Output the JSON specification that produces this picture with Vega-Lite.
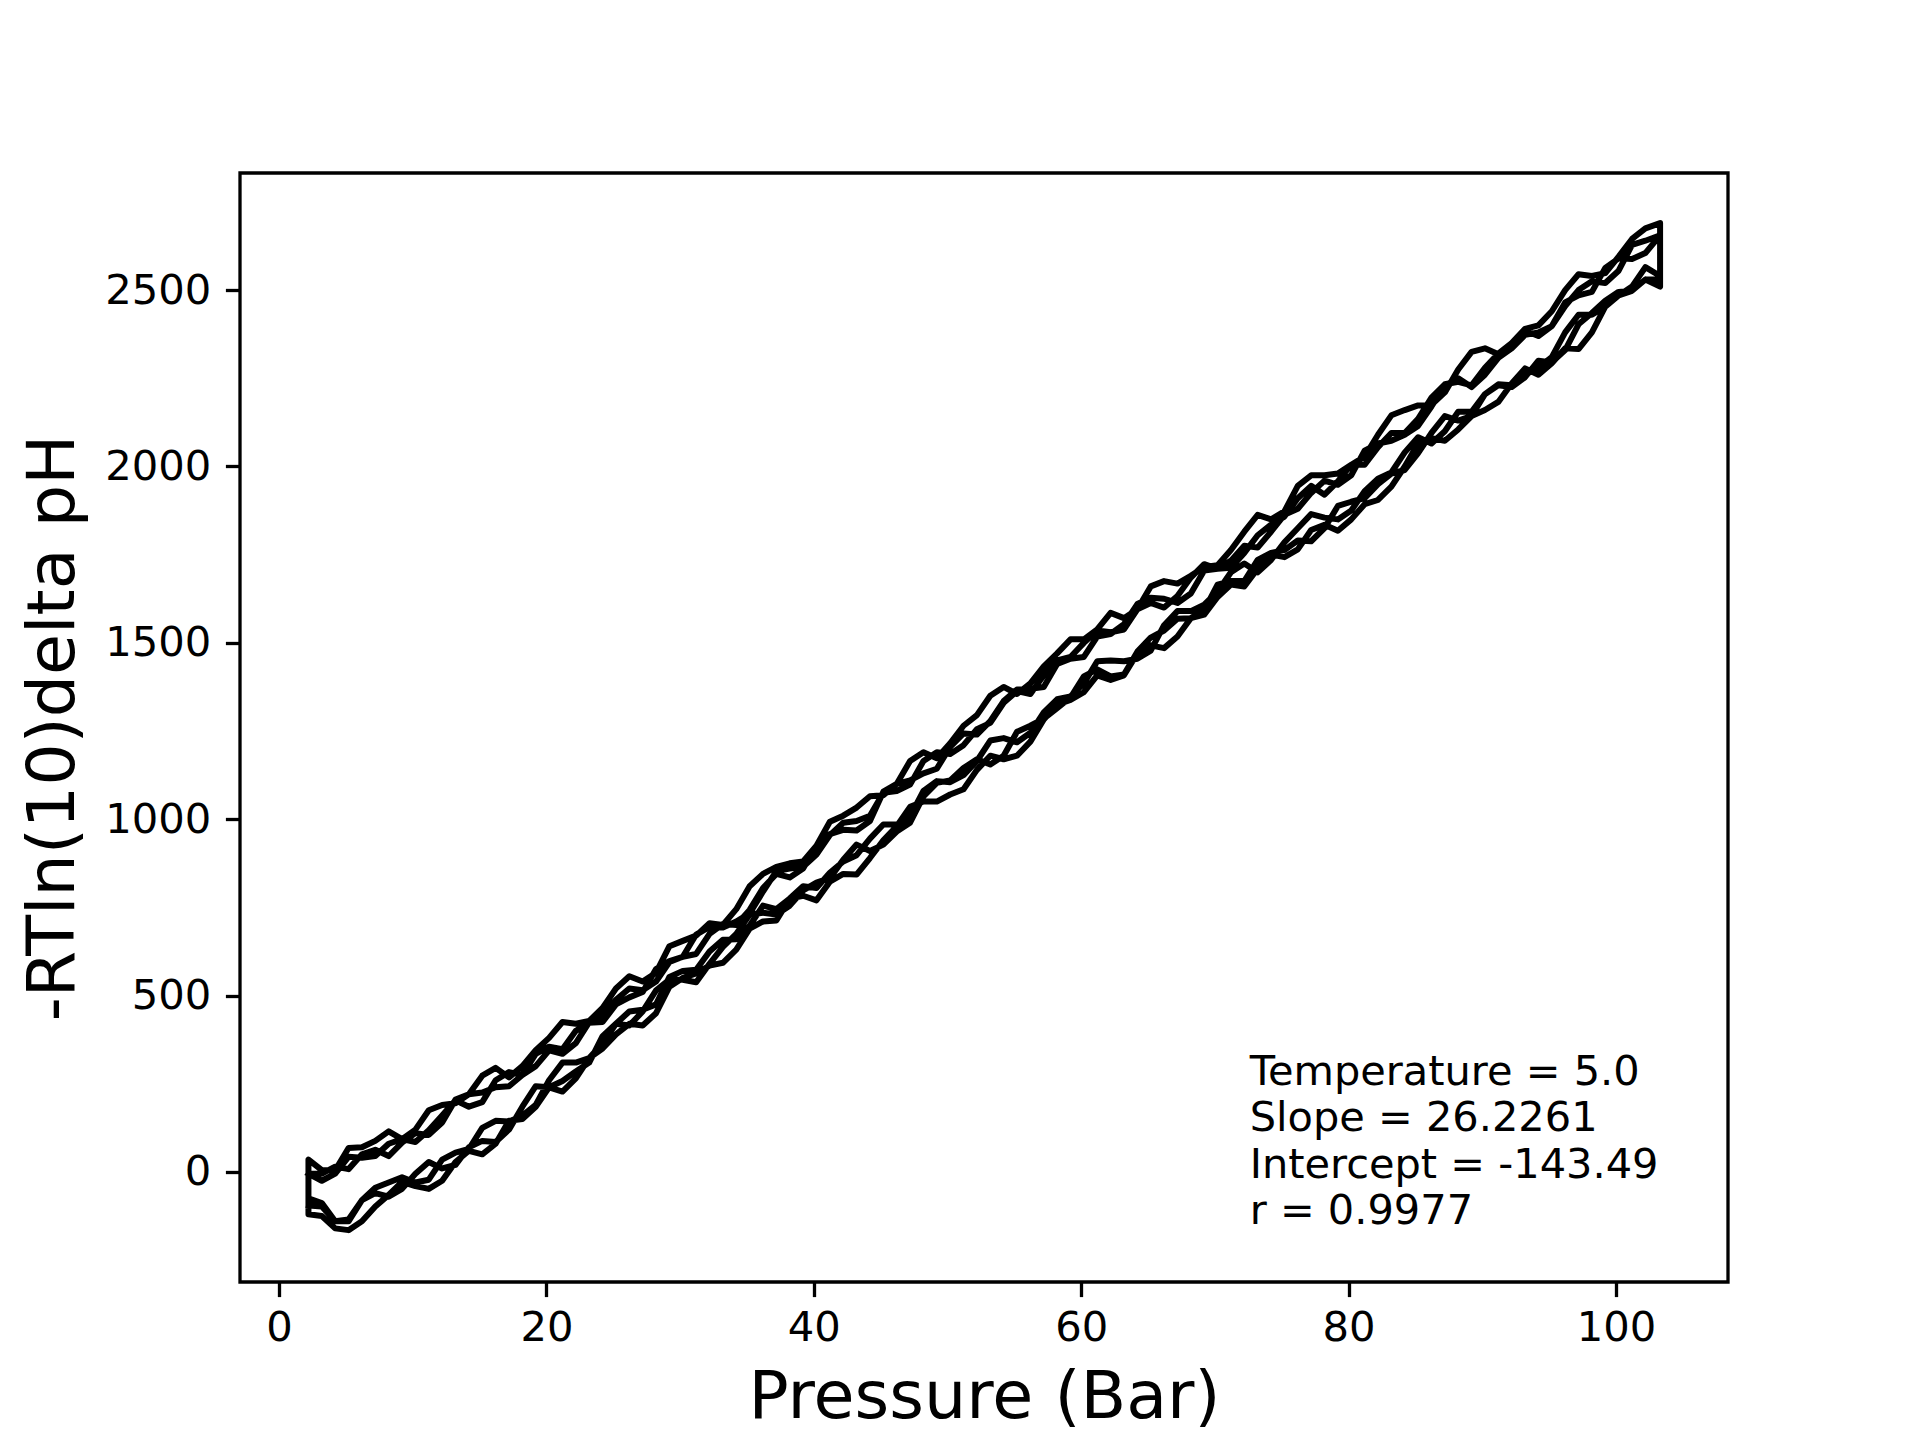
{
  "$schema": "https://vega.github.io/schema/vega-lite/v6.json",
  "description": "Pressure cycles: -RTln(10)delta pH against pressure",
  "autosize": {"type": "none"},
  "padding": {"left": 240, "top": 173, "right": 192, "bottom": 158},
  "width": 1488,
  "height": 1109,
  "background": "white",
  "config": {
    "view": {"stroke": "black", "strokeWidth": 3.3},
    "font": "DejaVu Sans"
  },
  "encoding": {
    "x": {
      "field": "p",
      "type": "quantitative",
      "scale": {"domain": [-2.92, 108.38], "nice": false, "zero": false},
      "axis": {
        "title": "Pressure (Bar)",
        "values": [0, 20, 40, 60, 80, 100],
        "format": "d",
        "grid": false,
        "domain": false,
        "tickSize": 14.6,
        "tickWidth": 3.3,
        "tickColor": "black",
        "labelFont": "DejaVu Sans",
        "labelFontSize": 41.7,
        "labelColor": "black",
        "labelPadding": 11,
        "labelFlush": false,
        "labelOverlap": false,
        "titleFont": "DejaVu Sans",
        "titleFontSize": 66.7,
        "titleFontWeight": "normal",
        "titleColor": "black",
        "titleBaseline": "alphabetic",
        "titleAlign": "center",
        "titleX": 744,
        "titleY": 135
      }
    },
    "y": {
      "field": "v",
      "type": "quantitative",
      "scale": {"domain": [-312, 2832], "nice": false, "zero": false},
      "axis": {
        "title": "-RTln(10)delta pH",
        "values": [0, 500, 1000, 1500, 2000, 2500],
        "format": "d",
        "grid": false,
        "domain": false,
        "tickSize": 14.6,
        "tickWidth": 3.3,
        "tickColor": "black",
        "labelFont": "DejaVu Sans",
        "labelFontSize": 41.7,
        "labelColor": "black",
        "labelPadding": 14.6,
        "labelOverlap": false,
        "titleFont": "DejaVu Sans",
        "titleFontSize": 66.7,
        "titleFontWeight": "normal",
        "titleColor": "black",
        "titleAngle": 270,
        "titleBaseline": "alphabetic",
        "titleAlign": "center",
        "titleX": -167,
        "titleY": 554.5
      }
    }
  },
  "layer": [
    {
      "data": {
        "values": [
          {"p":2.2,"v":-95},{"p":3.2,"v":-98},{"p":4.2,"v":-140},{"p":5.2,"v":-135},{"p":6.2,"v":-80},{"p":7.2,"v":-60},{"p":8.2,"v":-70},{"p":9.2,"v":-48},{"p":10.2,"v":-5},{"p":11.2,"v":28},{"p":12.2,"v":10},{"p":13.2,"v":20},{"p":14.2,"v":70},{"p":15.2,"v":88},{"p":16.2,"v":85},{"p":17.2,"v":120},{"p":18.2,"v":185},{"p":19.2,"v":243},{"p":20.2,"v":240},{"p":21.2,"v":258},{"p":22.2,"v":285},{"p":23.2,"v":310},{"p":24.2,"v":385},{"p":25.2,"v":420},{"p":26.2,"v":415},{"p":27.2,"v":455},{"p":28.2,"v":515},{"p":29.2,"v":545},{"p":30.2,"v":545},{"p":31.2,"v":538},{"p":32.2,"v":590},{"p":33.2,"v":638},{"p":34.2,"v":675},{"p":35.2,"v":730},{"p":36.2,"v":735},{"p":37.2,"v":730},{"p":38.2,"v":755},{"p":39.2,"v":798},{"p":40.2,"v":820},{"p":41.2,"v":833},{"p":42.2,"v":885},{"p":43.2,"v":928},{"p":44.2,"v":910},{"p":45.2,"v":928},{"p":46.2,"v":965},{"p":47.2,"v":990},{"p":48.2,"v":1065},{"p":49.2,"v":1103},{"p":50.2,"v":1110},{"p":51.2,"v":1145},{"p":52.2,"v":1170},{"p":53.2,"v":1155},{"p":54.2,"v":1180},{"p":55.2,"v":1248},{"p":56.2,"v":1265},{"p":57.2,"v":1285},{"p":58.2,"v":1315},{"p":59.2,"v":1345},{"p":60.2,"v":1405},{"p":61.2,"v":1425},{"p":62.2,"v":1405},{"p":63.2,"v":1410},{"p":64.2,"v":1475},{"p":65.2,"v":1515},{"p":66.2,"v":1535},{"p":67.2,"v":1568},{"p":68.2,"v":1570},{"p":69.2,"v":1593},{"p":70.2,"v":1665},{"p":71.2,"v":1675},{"p":72.2,"v":1675},{"p":73.2,"v":1735},{"p":74.2,"v":1755},{"p":75.2,"v":1763},{"p":76.2,"v":1790},{"p":77.2,"v":1788},{"p":78.2,"v":1825},{"p":79.2,"v":1888},{"p":80.2,"v":1900},{"p":81.2,"v":1910},{"p":82.2,"v":1950},{"p":83.2,"v":1980},{"p":84.2,"v":1990},{"p":85.2,"v":2038},{"p":86.2,"v":2095},{"p":87.2,"v":2143},{"p":88.2,"v":2130},{"p":89.2,"v":2143},{"p":90.2,"v":2205},{"p":91.2,"v":2230},{"p":92.2,"v":2225},{"p":93.2,"v":2253},{"p":94.2,"v":2300},{"p":95.2,"v":2295},{"p":96.2,"v":2330},{"p":97.2,"v":2403},{"p":98.2,"v":2435},{"p":99.2,"v":2470},{"p":100.2,"v":2495},{"p":101.2,"v":2498},{"p":102.2,"v":2530},{"p":103.3,"v":2530},
          {"p":103.3,"v":2690},{"p":102.2,"v":2675},{"p":101.2,"v":2645},{"p":100.2,"v":2595},{"p":99.2,"v":2548},{"p":98.2,"v":2540},{"p":97.2,"v":2545},{"p":96.2,"v":2500},{"p":95.2,"v":2440},{"p":94.2,"v":2400},{"p":93.2,"v":2390},{"p":92.2,"v":2350},{"p":91.2,"v":2318},{"p":90.2,"v":2335},{"p":89.2,"v":2325},{"p":88.2,"v":2275},{"p":87.2,"v":2210},{"p":86.2,"v":2175},{"p":85.2,"v":2173},{"p":84.2,"v":2160},{"p":83.2,"v":2145},{"p":82.2,"v":2090},{"p":81.2,"v":2028},{"p":80.2,"v":2005},{"p":79.2,"v":1980},{"p":78.2,"v":1975},{"p":77.2,"v":1975},{"p":76.2,"v":1945},{"p":75.2,"v":1873},{"p":74.2,"v":1850},{"p":73.2,"v":1863},{"p":72.2,"v":1815},{"p":71.2,"v":1763},{"p":70.2,"v":1720},{"p":69.2,"v":1715},{"p":68.2,"v":1690},{"p":67.2,"v":1668},{"p":66.2,"v":1675},{"p":65.2,"v":1660},{"p":64.2,"v":1595},{"p":63.2,"v":1570},{"p":62.2,"v":1585},{"p":61.2,"v":1538},{"p":60.2,"v":1510},{"p":59.2,"v":1510},{"p":58.2,"v":1470},{"p":57.2,"v":1433},{"p":56.2,"v":1385},{"p":55.2,"v":1355},{"p":54.2,"v":1375},{"p":53.2,"v":1350},{"p":52.2,"v":1295},{"p":51.2,"v":1265},{"p":50.2,"v":1215},{"p":49.2,"v":1173},{"p":48.2,"v":1190},{"p":47.2,"v":1165},{"p":46.2,"v":1100},{"p":45.2,"v":1068},{"p":44.2,"v":1065},{"p":43.2,"v":1033},{"p":42.2,"v":1010},{"p":41.2,"v":993},{"p":40.2,"v":925},{"p":39.2,"v":880},{"p":38.2,"v":875},{"p":37.2,"v":865},{"p":36.2,"v":845},{"p":35.2,"v":810},{"p":34.2,"v":745},{"p":33.2,"v":700},{"p":32.2,"v":705},{"p":31.2,"v":670},{"p":30.2,"v":655},{"p":29.2,"v":640},{"p":28.2,"v":565},{"p":27.2,"v":540},{"p":26.2,"v":555},{"p":25.2,"v":520},{"p":24.2,"v":465},{"p":23.2,"v":428},{"p":22.2,"v":420},{"p":21.2,"v":425},{"p":20.2,"v":380},{"p":19.2,"v":345},{"p":18.2,"v":300},{"p":17.2,"v":268},{"p":16.2,"v":295},{"p":15.2,"v":273},{"p":14.2,"v":220},{"p":13.2,"v":195},{"p":12.2,"v":190},{"p":11.2,"v":175},{"p":10.2,"v":120},{"p":9.2,"v":93},{"p":8.2,"v":115},{"p":7.2,"v":88},{"p":6.2,"v":70},{"p":5.2,"v":68},{"p":4.2,"v":5},{"p":3.2,"v":5},{"p":2.2,"v":35},
          {"p":2.2,"v":-120},{"p":3.2,"v":-125},{"p":4.2,"v":-160},{"p":5.2,"v":-165},{"p":6.2,"v":-140},{"p":7.2,"v":-98},{"p":8.2,"v":-65},{"p":9.2,"v":-28},{"p":10.2,"v":-40},{"p":11.2,"v":-48},{"p":12.2,"v":-25},{"p":13.2,"v":28},{"p":14.2,"v":60},{"p":15.2,"v":50},{"p":16.2,"v":80},{"p":17.2,"v":145},{"p":18.2,"v":150},{"p":19.2,"v":185},{"p":20.2,"v":240},{"p":21.2,"v":228},{"p":22.2,"v":265},{"p":23.2,"v":323},{"p":24.2,"v":350},{"p":25.2,"v":390},{"p":26.2,"v":420},{"p":27.2,"v":415},{"p":28.2,"v":450},{"p":29.2,"v":525},{"p":30.2,"v":550},{"p":31.2,"v":563},{"p":32.2,"v":585},{"p":33.2,"v":593},{"p":34.2,"v":630},{"p":35.2,"v":690},{"p":36.2,"v":710},{"p":37.2,"v":713},{"p":38.2,"v":775},{"p":39.2,"v":783},{"p":40.2,"v":770},{"p":41.2,"v":823},{"p":42.2,"v":845},{"p":43.2,"v":843},{"p":44.2,"v":890},{"p":45.2,"v":940},{"p":46.2,"v":980},{"p":47.2,"v":1035},{"p":48.2,"v":1050},{"p":49.2,"v":1050},{"p":50.2,"v":1070},{"p":51.2,"v":1085},{"p":52.2,"v":1140},{"p":53.2,"v":1180},{"p":54.2,"v":1170},{"p":55.2,"v":1180},{"p":56.2,"v":1220},{"p":57.2,"v":1283},{"p":58.2,"v":1325},{"p":59.2,"v":1338},{"p":60.2,"v":1360},{"p":61.2,"v":1408},{"p":62.2,"v":1395},{"p":63.2,"v":1408},{"p":64.2,"v":1470},{"p":65.2,"v":1493},{"p":66.2,"v":1485},{"p":67.2,"v":1518},{"p":68.2,"v":1570},{"p":69.2,"v":1580},{"p":70.2,"v":1630},{"p":71.2,"v":1665},{"p":72.2,"v":1660},{"p":73.2,"v":1710},{"p":74.2,"v":1750},{"p":75.2,"v":1743},{"p":76.2,"v":1765},{"p":77.2,"v":1820},{"p":78.2,"v":1835},{"p":79.2,"v":1818},{"p":80.2,"v":1850},{"p":81.2,"v":1893},{"p":82.2,"v":1905},{"p":83.2,"v":1943},{"p":84.2,"v":2000},{"p":85.2,"v":2065},{"p":86.2,"v":2080},{"p":87.2,"v":2073},{"p":88.2,"v":2105},{"p":89.2,"v":2143},{"p":90.2,"v":2160},{"p":91.2,"v":2183},{"p":92.2,"v":2235},{"p":93.2,"v":2278},{"p":94.2,"v":2260},{"p":95.2,"v":2293},{"p":96.2,"v":2335},{"p":97.2,"v":2333},{"p":98.2,"v":2380},{"p":99.2,"v":2453},{"p":100.2,"v":2485},{"p":101.2,"v":2498},{"p":102.2,"v":2530},{"p":103.3,"v":2510},
          {"p":103.3,"v":2655},{"p":102.2,"v":2640},{"p":101.2,"v":2628},{"p":100.2,"v":2555},{"p":99.2,"v":2520},{"p":98.2,"v":2525},{"p":97.2,"v":2500},{"p":96.2,"v":2455},{"p":95.2,"v":2398},{"p":94.2,"v":2370},{"p":93.2,"v":2385},{"p":92.2,"v":2350},{"p":91.2,"v":2320},{"p":90.2,"v":2280},{"p":89.2,"v":2230},{"p":88.2,"v":2240},{"p":87.2,"v":2233},{"p":86.2,"v":2195},{"p":85.2,"v":2135},{"p":84.2,"v":2095},{"p":83.2,"v":2095},{"p":82.2,"v":2055},{"p":81.2,"v":2005},{"p":80.2,"v":2005},{"p":79.2,"v":1958},{"p":78.2,"v":1920},{"p":77.2,"v":1945},{"p":76.2,"v":1910},{"p":75.2,"v":1858},{"p":74.2,"v":1835},{"p":73.2,"v":1805},{"p":72.2,"v":1755},{"p":71.2,"v":1713},{"p":70.2,"v":1710},{"p":69.2,"v":1723},{"p":68.2,"v":1685},{"p":67.2,"v":1633},{"p":66.2,"v":1600},{"p":65.2,"v":1613},{"p":64.2,"v":1595},{"p":63.2,"v":1538},{"p":62.2,"v":1530},{"p":61.2,"v":1535},{"p":60.2,"v":1500},{"p":59.2,"v":1460},{"p":58.2,"v":1450},{"p":57.2,"v":1408},{"p":56.2,"v":1355},{"p":55.2,"v":1363},{"p":54.2,"v":1330},{"p":53.2,"v":1273},{"p":52.2,"v":1255},{"p":51.2,"v":1210},{"p":50.2,"v":1185},{"p":49.2,"v":1190},{"p":48.2,"v":1165},{"p":47.2,"v":1098},{"p":46.2,"v":1080},{"p":45.2,"v":1075},{"p":44.2,"v":1010},{"p":43.2,"v":995},{"p":42.2,"v":990},{"p":41.2,"v":955},{"p":40.2,"v":900},{"p":39.2,"v":865},{"p":38.2,"v":860},{"p":37.2,"v":853},{"p":36.2,"v":795},{"p":35.2,"v":733},{"p":34.2,"v":710},{"p":33.2,"v":693},{"p":32.2,"v":695},{"p":31.2,"v":673},{"p":30.2,"v":610},{"p":29.2,"v":598},{"p":28.2,"v":575},{"p":27.2,"v":510},{"p":26.2,"v":495},{"p":25.2,"v":475},{"p":24.2,"v":425},{"p":23.2,"v":423},{"p":22.2,"v":400},{"p":21.2,"v":348},{"p":20.2,"v":355},{"p":19.2,"v":335},{"p":18.2,"v":275},{"p":17.2,"v":243},{"p":16.2,"v":240},{"p":15.2,"v":225},{"p":14.2,"v":220},{"p":13.2,"v":205},{"p":12.2,"v":140},{"p":11.2,"v":105},{"p":10.2,"v":110},{"p":9.2,"v":83},{"p":8.2,"v":45},{"p":7.2,"v":63},{"p":6.2,"v":50},{"p":5.2,"v":8},{"p":4.2,"v":15},{"p":3.2,"v":-5},{"p":2.2,"v":-5},
          {"p":2.2,"v":-75},{"p":3.2,"v":-88},{"p":4.2,"v":-140},{"p":5.2,"v":-140},{"p":6.2,"v":-80},{"p":7.2,"v":-45},{"p":8.2,"v":-30},{"p":9.2,"v":-15},{"p":10.2,"v":-30},{"p":11.2,"v":-22},{"p":12.2,"v":35},{"p":13.2,"v":55},{"p":14.2,"v":65},{"p":15.2,"v":125},{"p":16.2,"v":145},{"p":17.2,"v":143},{"p":18.2,"v":160},{"p":19.2,"v":190},{"p":20.2,"v":260},{"p":21.2,"v":310},{"p":22.2,"v":310},{"p":23.2,"v":323},{"p":24.2,"v":365},{"p":25.2,"v":420},{"p":26.2,"v":455},{"p":27.2,"v":460},{"p":28.2,"v":475},{"p":29.2,"v":553},{"p":30.2,"v":570},{"p":31.2,"v":573},{"p":32.2,"v":625},{"p":33.2,"v":658},{"p":34.2,"v":660},{"p":35.2,"v":698},{"p":36.2,"v":755},{"p":37.2,"v":745},{"p":38.2,"v":775},{"p":39.2,"v":810},{"p":40.2,"v":805},{"p":41.2,"v":848},{"p":42.2,"v":880},{"p":43.2,"v":898},{"p":44.2,"v":945},{"p":45.2,"v":985},{"p":46.2,"v":985},{"p":47.2,"v":1008},{"p":48.2,"v":1080},{"p":49.2,"v":1108},{"p":50.2,"v":1105},{"p":51.2,"v":1125},{"p":52.2,"v":1165},{"p":53.2,"v":1223},{"p":54.2,"v":1230},{"p":55.2,"v":1218},{"p":56.2,"v":1245},{"p":57.2,"v":1303},{"p":58.2,"v":1340},{"p":59.2,"v":1348},{"p":60.2,"v":1385},{"p":61.2,"v":1448},{"p":62.2,"v":1450},{"p":63.2,"v":1448},{"p":64.2,"v":1455},{"p":65.2,"v":1478},{"p":66.2,"v":1550},{"p":67.2,"v":1590},{"p":68.2,"v":1590},{"p":69.2,"v":1608},{"p":70.2,"v":1645},{"p":71.2,"v":1700},{"p":72.2,"v":1725},{"p":73.2,"v":1700},{"p":74.2,"v":1735},{"p":75.2,"v":1785},{"p":76.2,"v":1825},{"p":77.2,"v":1865},{"p":78.2,"v":1855},{"p":79.2,"v":1850},{"p":80.2,"v":1875},{"p":81.2,"v":1930},{"p":82.2,"v":1965},{"p":83.2,"v":1983},{"p":84.2,"v":2040},{"p":85.2,"v":2083},{"p":86.2,"v":2065},{"p":87.2,"v":2100},{"p":88.2,"v":2155},{"p":89.2,"v":2155},{"p":90.2,"v":2205},{"p":91.2,"v":2233},{"p":92.2,"v":2230},{"p":93.2,"v":2260},{"p":94.2,"v":2280},{"p":95.2,"v":2310},{"p":96.2,"v":2380},{"p":97.2,"v":2430},{"p":98.2,"v":2430},{"p":99.2,"v":2453},{"p":100.2,"v":2485},{"p":101.2,"v":2510},{"p":102.2,"v":2565},{"p":103.3,"v":2540},
          {"p":103.3,"v":2655},{"p":102.2,"v":2605},{"p":101.2,"v":2588},{"p":100.2,"v":2590},{"p":99.2,"v":2563},{"p":98.2,"v":2495},{"p":97.2,"v":2485},{"p":96.2,"v":2465},{"p":95.2,"v":2398},{"p":94.2,"v":2380},{"p":93.2,"v":2373},{"p":92.2,"v":2335},{"p":91.2,"v":2308},{"p":90.2,"v":2260},{"p":89.2,"v":2225},{"p":88.2,"v":2250},{"p":87.2,"v":2230},{"p":86.2,"v":2170},{"p":85.2,"v":2115},{"p":84.2,"v":2090},{"p":83.2,"v":2073},{"p":82.2,"v":2065},{"p":81.2,"v":2045},{"p":80.2,"v":1975},{"p":79.2,"v":1948},{"p":78.2,"v":1960},{"p":77.2,"v":1925},{"p":76.2,"v":1880},{"p":75.2,"v":1863},{"p":74.2,"v":1815},{"p":73.2,"v":1770},{"p":72.2,"v":1775},{"p":71.2,"v":1733},{"p":70.2,"v":1710},{"p":69.2,"v":1705},{"p":68.2,"v":1640},{"p":67.2,"v":1613},{"p":66.2,"v":1625},{"p":65.2,"v":1628},{"p":64.2,"v":1610},{"p":63.2,"v":1553},{"p":62.2,"v":1525},{"p":61.2,"v":1518},{"p":60.2,"v":1460},{"p":59.2,"v":1455},{"p":58.2,"v":1440},{"p":57.2,"v":1375},{"p":56.2,"v":1370},{"p":55.2,"v":1368},{"p":54.2,"v":1335},{"p":53.2,"v":1278},{"p":52.2,"v":1240},{"p":51.2,"v":1243},{"p":50.2,"v":1205},{"p":49.2,"v":1143},{"p":48.2,"v":1130},{"p":47.2,"v":1110},{"p":46.2,"v":1100},{"p":45.2,"v":1078},{"p":44.2,"v":995},{"p":43.2,"v":968},{"p":42.2,"v":970},{"p":41.2,"v":958},{"p":40.2,"v":925},{"p":39.2,"v":860},{"p":38.2,"v":835},{"p":37.2,"v":845},{"p":36.2,"v":805},{"p":35.2,"v":743},{"p":34.2,"v":700},{"p":33.2,"v":703},{"p":32.2,"v":675},{"p":31.2,"v":618},{"p":30.2,"v":610},{"p":29.2,"v":595},{"p":28.2,"v":540},{"p":27.2,"v":515},{"p":26.2,"v":520},{"p":25.2,"v":488},{"p":24.2,"v":445},{"p":23.2,"v":425},{"p":22.2,"v":365},{"p":21.2,"v":335},{"p":20.2,"v":345},{"p":19.2,"v":300},{"p":18.2,"v":275},{"p":17.2,"v":283},{"p":16.2,"v":260},{"p":15.2,"v":198},{"p":14.2,"v":185},{"p":13.2,"v":203},{"p":12.2,"v":160},{"p":11.2,"v":118},{"p":10.2,"v":85},{"p":9.2,"v":93},{"p":8.2,"v":80},{"p":7.2,"v":45},{"p":6.2,"v":40},{"p":5.2,"v":43},{"p":4.2,"v":-5},{"p":3.2,"v":-25},{"p":2.2,"v":-5}
        ]
      },
      "mark": {
        "type": "line",
        "color": "black",
        "strokeWidth": 6,
        "strokeJoin": "round",
        "strokeCap": "square"
      },
      "encoding": {
        "order": {"value": null}
      }
    },
    {
      "data": {
        "values": [
          {"p": 72.6, "v": 246.6, "t": "Temperature = 5.0\nSlope = 26.2261\nIntercept = -143.49\nr = 0.9977"}
        ]
      },
      "mark": {
        "type": "text",
        "align": "left",
        "baseline": "alphabetic",
        "font": "DejaVu Sans",
        "fontSize": 41.5,
        "lineHeight": 46.5,
        "lineBreak": "\n",
        "color": "black"
      },
      "encoding": {
        "text": {"field": "t", "type": "nominal"}
      }
    }
  ]
}
